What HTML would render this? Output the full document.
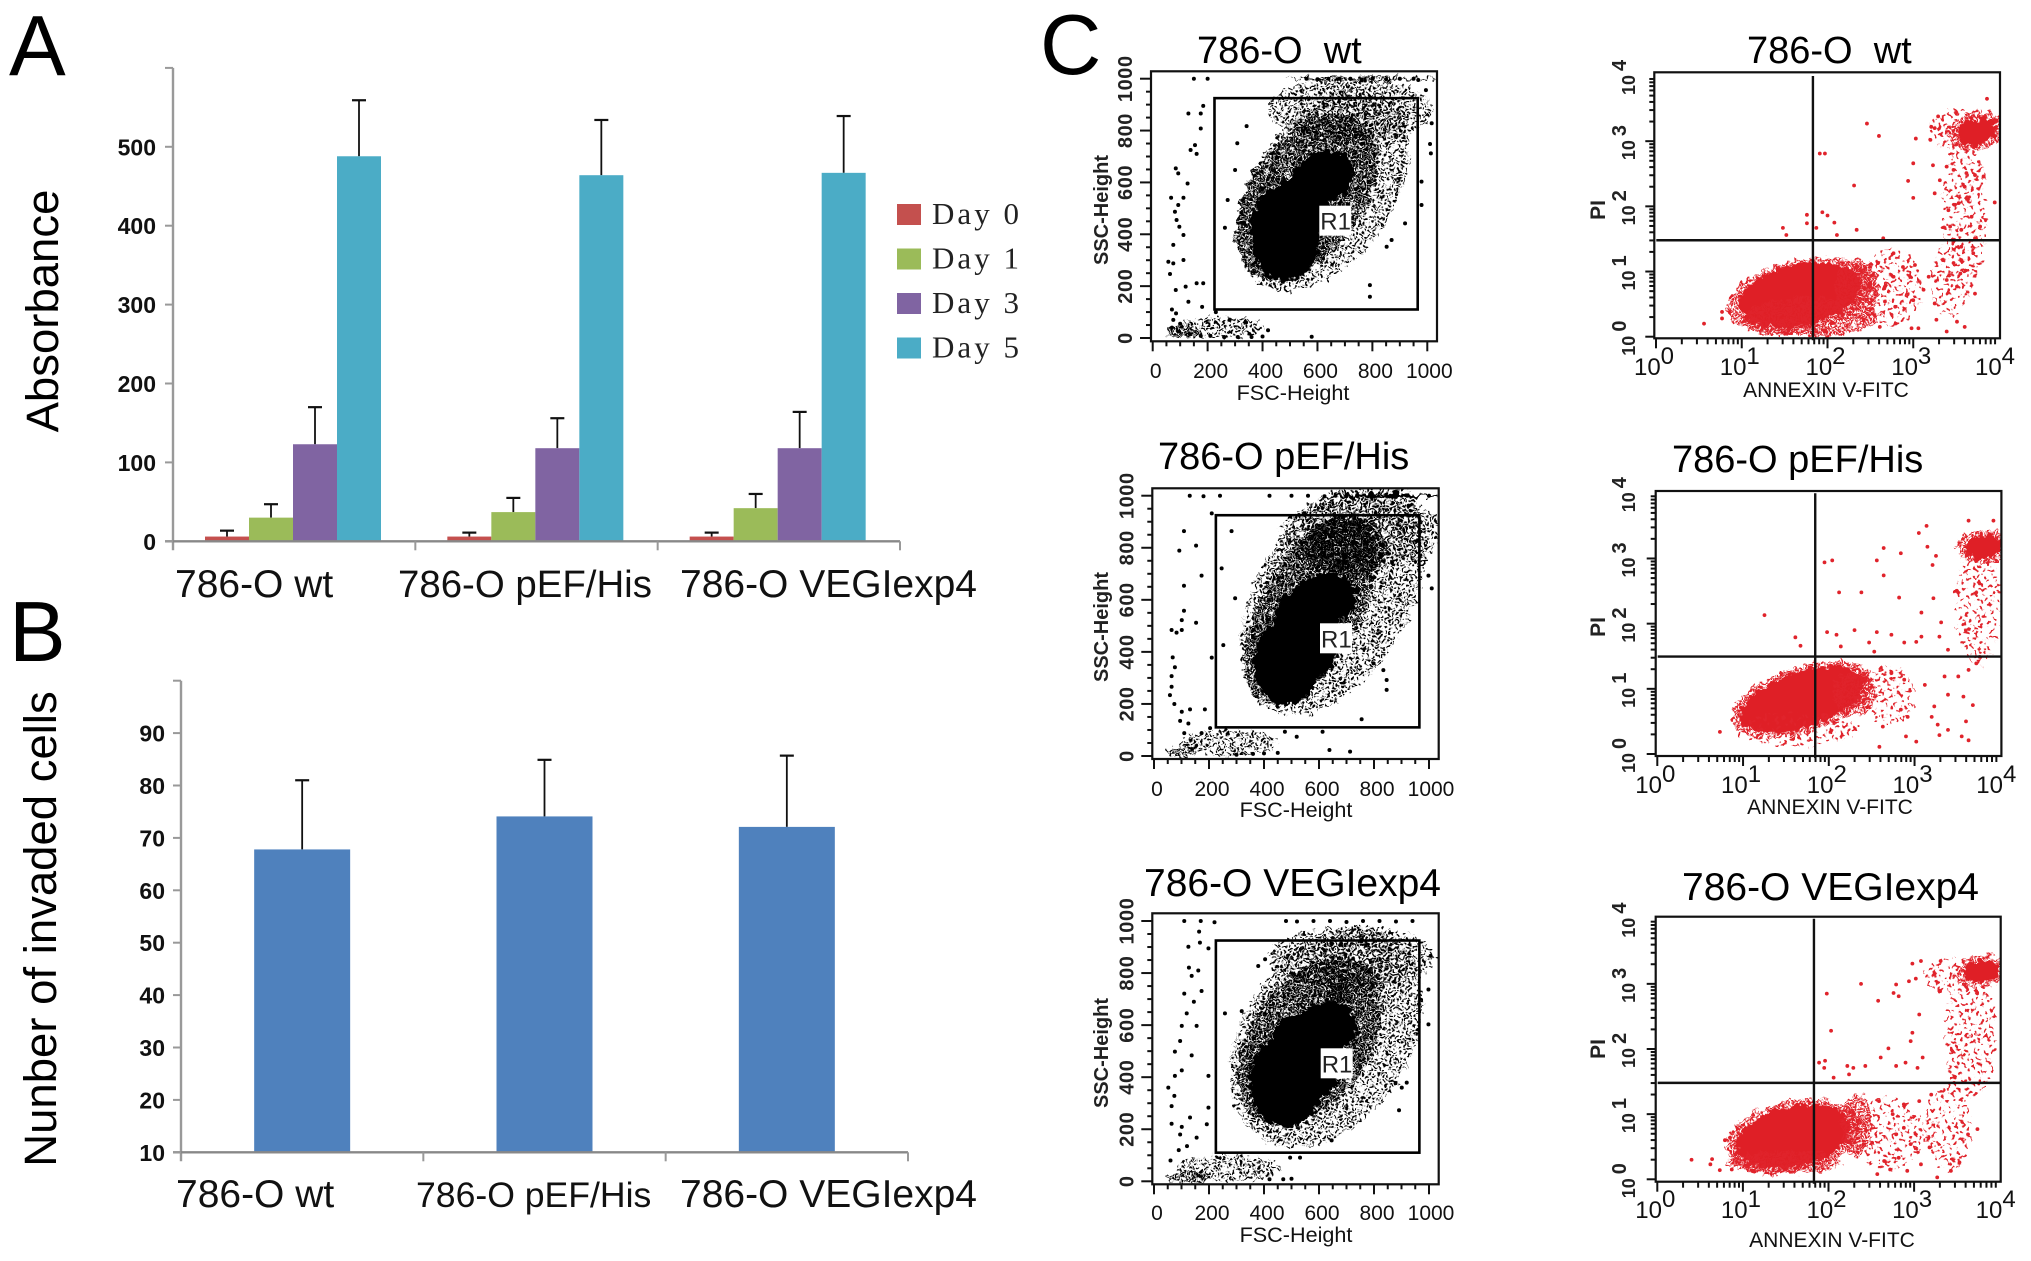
<!DOCTYPE html>
<html lang="en">
<head>
<meta charset="utf-8">
<title>786-O proliferation, invasion and flow cytometry figure</title>
<style>
html,body{margin:0;padding:0;background:#fff;}
svg{display:block;font-family:"Liberation Sans",sans-serif;}
</style>
</head>
<body>
<svg id="figure" xmlns="http://www.w3.org/2000/svg" width="2031" height="1261" viewBox="0 0 2031 1261">
<defs>
<pattern id="blackSparse" patternUnits="userSpaceOnUse" width="7" height="7" patternTransform="rotate(22)"><circle cx="1.75" cy="1.75" r="1.5" fill="#000"/><circle cx="5.25" cy="5.25" r="1.5" fill="#000"/></pattern>
<pattern id="blackMid" patternUnits="userSpaceOnUse" width="4.8" height="4.8" patternTransform="rotate(22)"><circle cx="1.2" cy="1.2" r="1.45" fill="#000"/><circle cx="3.6" cy="3.6" r="1.45" fill="#000"/></pattern>
<pattern id="redSparse" patternUnits="userSpaceOnUse" width="11" height="11" patternTransform="rotate(22)"><circle cx="2.75" cy="2.75" r="1.9" fill="#e0232b"/><circle cx="8.25" cy="8.25" r="1.9" fill="#e0232b"/></pattern>
<pattern id="redMid" patternUnits="userSpaceOnUse" width="5.4" height="5.4" patternTransform="rotate(22)"><circle cx="1.35" cy="1.35" r="1.7" fill="#e0232b"/><circle cx="4.05" cy="4.05" r="1.7" fill="#e0232b"/></pattern>
<filter id="scatterRoughen" x="-8%" y="-8%" width="116%" height="116%" color-interpolation-filters="sRGB">
<feTurbulence type="fractalNoise" baseFrequency="0.16" numOctaves="2" seed="7" result="noise"/>
<feDisplacementMap in="SourceGraphic" in2="noise" scale="13" xChannelSelector="R" yChannelSelector="G"/>
</filter>
</defs>
<rect x="0" y="0" width="2031" height="1261" fill="#fff"/>

<text x="9" y="75" font-size="85">A</text>
<text x="9" y="661" font-size="85">B</text>
<text x="1040" y="74" font-size="85">C</text>

<text transform="translate(58,311) rotate(-90)" text-anchor="middle" font-size="45.5">Absorbance</text>
<text transform="translate(56,929) rotate(-90)" text-anchor="middle" font-size="45.5">Nunber of invaded cells</text>

<text x="1197" y="63" font-size="38" xml:space="preserve">786-O  wt</text>
<text x="1158" y="469" font-size="38">786-O pEF/His</text>
<text x="1144" y="896" font-size="39">786-O VEGIexp4</text>
<text x="1747" y="63" font-size="38" xml:space="preserve">786-O  wt</text>
<text x="1672" y="472" font-size="38">786-O pEF/His</text>
<text x="1682" y="900" font-size="39">786-O VEGIexp4</text>

<g id="chartA"></g>
<g id="chartB"></g>
<g id="flow"></g>
</svg>

<script>
// ---------- Chart A data ----------
const absorbanceGroups = ['786-O wt', '786-O pEF/His', '786-O VEGIexp4'];
const absorbanceTicks = [0, 100, 200, 300, 400, 500];
const dayNames = ['Day 0', 'Day 1', 'Day 3', 'Day 5'];
const day0Values = [6, 6, 6];
const day1Values = [30, 37, 42];
const day3Values = [123, 118, 118];
const day5Values = [488, 464, 467];
const day0ErrorTops = [13.5, 11, 11];
const day1ErrorTops = [47, 55, 60];
const day3ErrorTops = [170, 156, 164];
const day5ErrorTops = [559, 534, 539];

// ---------- Chart B data ----------
const invasionGroups = ['786-O wt', '786-O pEF/His', '786-O VEGIexp4'];
const invasionTicks = [10, 20, 30, 40, 50, 60, 70, 80, 90];
const invasionValues = [67.8, 74.1, 72.1];
const invasionErrorTops = [81, 84.9, 85.7];

// ---------- Flow cytometry axis labels ----------
const fscTicks = [0, 200, 400, 600, 800, 1000];
const logDecades = [0, 1, 2, 3, 4];

// Density regions: centre x, centre y, radius x, radius y, tilt degrees, density (0 sparse, 1 mid, 2 solid)
const fscWtRegions = [[621,570,412,270,-55,0],[720,880,300,120,0,0],[760,1000,270,8,0,1],[560,545,340,218,-55,1],[482,404,127,186,0,2],[621,622,115,96,-20,2],[536,503,110,115,0,2],[110,22,60,22,0,1],[250,40,150,40,0,0]];
const fscPefRegions = [[652,612,470,295,-60,0],[760,860,300,130,0,0],[820,1000,210,8,0,2],[567,561,376,192,-62,1],[700,800,150,120,0,1],[482,356,120,160,0,2],[616,599,122,100,-20,2],[550,470,100,170,-25,2],[100,15,55,20,0,1],[270,50,180,50,0,0]];
const fscVegRegions = [[628,552,436,320,-55,0],[720,860,300,120,0,0],[567,539,340,230,-55,1],[482,385,135,176,0,2],[628,590,110,100,-20,2],[676,731,40,64,0,1],[550,480,110,170,-25,2],[120,15,80,20,0,1],[270,50,190,50,0,0]];

const fscWtPoints = [[130,866],[175,866],[184,895],[175,808],[154,744],[138,725],[160,710],[84,654],[93,635],[127,596],[67,541],[112,541],[93,513],[81,487],[87,455],[97,429],[112,397],[75,359],[112,301],[57,294],[75,288],[63,247],[84,185],[120,198],[160,211],[184,211],[342,817],[308,751],[300,648],[273,532],[263,425],[791,204],[791,159],[579,5],[1016,828],[1010,748],[1013,712],[995,956],[967,995],[979,603],[979,513],[919,442],[870,378],[852,352],[70,110],[85,95],[75,70],[100,55],[70,40],[95,25],[135,15],[175,8],[210,8],[260,4],[310,4],[360,4],[400,6],[420,30],[130,140],[180,120],[230,100],[280,70],[340,60],[200,1000],[150,1000],[560,1000],[600,998],[640,1000],[680,1000],[720,1000],[760,996],[800,1000],[850,998],[900,1000],[950,1000]];
const fscPefPoints = [[109,864],[92,789],[153,808],[173,693],[109,654],[109,558],[101,522],[153,512],[64,484],[82,474],[101,484],[68,379],[76,341],[64,307],[64,266],[58,234],[74,200],[101,170],[131,179],[185,179],[95,135],[125,125],[110,88],[173,88],[204,107],[210,932],[246,721],[282,864],[210,378],[252,426],[295,606],[755,141],[613,93],[638,23],[713,17],[998,693],[1010,644],[846,292],[846,254],[834,330],[798,356],[519,74],[476,93],[130,1000],[180,998],[240,1000],[420,1000],[500,1000],[560,1000],[620,998],[660,1000],[700,1000],[740,1000],[800,998],[860,1000],[920,1000],[1000,1000],[300,5],[360,8],[400,10],[450,12]];
const fscVegPoints = [[164,959],[125,901],[167,917],[198,895],[127,821],[161,810],[137,789],[110,721],[173,731],[145,690],[119,645],[101,597],[155,597],[95,539],[76,498],[137,484],[101,426],[76,405],[52,360],[74,328],[64,289],[64,221],[101,209],[95,180],[131,245],[192,219],[155,168],[198,283],[198,405],[258,645],[319,654],[379,827],[404,853],[919,379],[901,360],[891,273],[998,603],[1006,866],[998,737],[531,91],[495,91],[646,157],[110,1000],[170,1000],[220,995],[480,1000],[520,998],[580,1000],[640,1000],[700,996],[760,1000],[820,1000],[880,998],[940,1000],[420,8],[470,8],[500,10],[90,120],[120,135],[60,80]];

const annexinWtRegions = [[1.68,.62,.86,.56,-12,1],[1.68,.64,.72,.47,-12,2],[1.81,.30,.80,.30,0,1],[2.34,.72,.26,.48,0,1],[2.75,.75,.35,.6,0,0],[3.6,1.9,.26,1.18,0,0],[3.44,.87,.23,.56,0,0],[3.62,3.18,.44,.33,0,0],[3.74,3.15,.34,.28,-10,1],[3.74,3.15,.23,.2,-10,2]];
const annexinPefRegions = [[1.69,.83,.86,.5,-18,1],[1.69,.83,.76,.42,-18,2],[1.63,.37,.72,.26,0,0],[2.3,.93,.26,.33,0,1],[2.7,.9,.3,.45,0,0],[3.74,2.32,.26,.97,0,0],[3.82,3.18,.32,.26,0,1],[3.82,3.18,.22,.18,-10,2]];
const annexinVegRegions = [[1.59,.66,.8,.55,-12,1],[1.59,.66,.68,.46,-12,2],[1.5,.26,.66,.17,0,1],[2.33,.84,.18,.48,0,1],[2.7,.7,.4,.55,0,0],[3.66,2.22,.3,.97,0,0],[3.39,.79,.27,.66,0,0],[3.55,3.12,.45,.26,0,0],[3.78,3.19,.3,.24,-10,1],[3.78,3.19,.21,.16,-10,2]];

const annexinWtPoints = [[.56,.2],[.77,.38],[.77,.28],[.86,.38],[1.48,1.67],[1.52,1.56],[1.76,1.87],[1.76,1.74],[1.87,1.67],[1.94,1.91],[2.0,1.86],[2.08,1.75],[2.34,1.64],[2.11,1.56],[1.91,2.81],[1.97,2.81],[2.46,3.27],[2.6,3.08],[2.31,2.32],[3.03,3.04],[3.0,2.66],[2.94,2.39],[3.0,2.13],[3.29,3.38],[3.86,3.65],[3.95,2.06],[3.21,3.22],[3.25,3.2],[3.2,3.02],[3.23,2.63],[3.39,2.61],[3.47,2.56],[3.62,2.51],[3.72,2.48],[3.82,2.46],[3.6,2.3],[3.31,2.4],[3.25,2.2],[3.41,1.94],[3.53,2.05],[3.68,1.84],[3.78,1.69],[3.43,1.69],[3.56,1.64],[3.72,1.51],[3.56,1.38],[3.7,1.28],[3.47,1.13],[3.55,.97],[3.39,.87],[3.51,.77],[3.72,.66],[3.18,.92],[3.25,.51],[3.27,.26],[3.39,.08],[3.51,.23],[3.6,.15],[2.98,.13],[3.06,.13],[3.0,.56],[3.12,.72],[3.02,1.1],[2.88,1.07],[2.77,1.28],[2.77,.92],[2.65,1.51],[2.59,1.13],[2.5,.82],[2.67,.54],[2.79,.46],[2.61,.15],[2.42,.26],[2.52,.56]];
const annexinPefPoints = [[.73,.34],[1.25,2.13],[1.95,2.94],[2.04,2.97],[2.12,2.48],[2.38,2.48],[2.56,2.97],[2.64,3.16],[2.64,2.74],[2.84,3.08],[2.82,2.4],[3.05,3.39],[3.14,3.5],[3.15,3.18],[3.21,2.9],[3.25,3.04],[3.22,2.39],[3.08,2.17],[3.31,2.02],[3.63,3.58],[3.92,3.58],[1.98,1.87],[2.09,1.83],[2.3,1.9],[2.56,1.87],[2.73,1.83],[2.88,1.71],[3.02,1.72],[3.08,1.8],[3.29,1.8],[3.39,1.6],[1.61,1.79],[1.67,1.66],[2.14,1.65],[2.47,1.71],[2.53,1.57],[3.12,1.06],[3.35,1.19],[3.51,1.19],[3.63,1.29],[3.72,1.39],[3.76,1.49],[3.2,.57],[3.27,.45],[3.29,.29],[3.39,.37],[3.55,.27],[3.63,.21],[3.6,.5],[3.02,.19],[2.9,.27],[2.59,.11],[2.63,.42],[2.84,.68],[2.92,.57],[2.88,1.14],[2.73,1.24],[3.39,.91],[3.57,.88],[3.68,.75],[3.23,.73]];
const annexinVegPoints = [[.4,.3],[.64,.31],[.62,.23],[.73,.14],[.79,.6],[.85,.64],[.87,.15],[.91,.38],[2.38,3.0],[1.98,2.85],[2.03,2.28],[2.58,2.74],[2.79,2.99],[2.76,2.86],[2.82,2.81],[2.94,3.04],[2.98,3.31],[3.08,3.35],[3.02,3.08],[3.06,2.53],[2.98,2.25],[2.96,2.12],[2.7,2.01],[2.61,1.87],[2.79,1.74],[2.9,1.79],[3.1,1.87],[3.04,1.71],[3.31,3.35],[1.89,1.79],[1.96,1.82],[1.95,1.71],[2.22,1.74],[2.29,1.71],[2.43,1.74],[2.06,1.56],[2.24,1.61],[3.06,1.2],[3.2,1.3],[2.88,1.15],[2.75,1.0],[2.59,1.2],[2.88,.79],[2.79,.69],[2.96,.54],[2.82,.33],[3.08,.23],[2.92,.13],[2.72,.15],[2.57,.08],[2.65,.28],[2.51,.56],[3.27,.03],[3.18,.49],[3.43,.13],[3.53,.26],[3.63,.69],[3.74,.77]];

// Gate and quadrant thresholds, in axis units
const gateBounds = [225, 965, 110, 925];
const quadrantThresholds = [1.83, 1.48];

// ---------- Helpers ----------
const NS = 'http://www.w3.org/2000/svg';
function el(parent, tag, attrs, text) {
  const node = document.createElementNS(NS, tag);
  for (const k in attrs) node.setAttribute(k, attrs[k]);
  if (text !== undefined) node.textContent = text;
  parent.appendChild(node);
  return node;
}
function hLine(parent, x1, x2, y, stroke, w) {
  return el(parent, 'line', {x1: x1, x2: x2, y1: y, y2: y, stroke: stroke, 'stroke-width': w});
}
function vLine(parent, x, y1, y2, stroke, w) {
  return el(parent, 'line', {x1: x, x2: x, y1: y1, y2: y2, stroke: stroke, 'stroke-width': w});
}

// ---------- Chart A ----------
(function () {
  const root = document.getElementById('chartA');
  const left = 173, right = 900, zeroY = 541.3, perUnit = 0.789, axisMax = 600;
  const yScale = v => zeroY - v * perUnit;
  const groupW = (right - left) / absorbanceGroups.length;
  const barW = 44, inset = 32;
  const xScale = (g, s) => left + g * groupW + inset + s * barW;
  const colors = ['#c4504e', '#9bbb59', '#8064a2', '#4bacc6'];
  const series = [day0Values, day1Values, day3Values, day5Values];
  const errors = [day0ErrorTops, day1ErrorTops, day3ErrorTops, day5ErrorTops];

  series.forEach((vals, s) => {
    vals.forEach((v, g) => {
      const x = xScale(g, s);
      const stem = vLine(root, x + barW / 2, yScale(errors[s][g]), yScale(v), '#111', 1.8);
      
      
      const cap = hLine(root, x + barW / 2 - 7, x + barW / 2 + 7, yScale(errors[s][g]), '#111', 2.2);
      
      
      const bar = el(root, 'rect', {x: x, y: yScale(v), width: barW, height: yScale(0) - yScale(v), fill: colors[s]});
      
      
    });
  });

  const yAxis = vLine(root, left, yScale(axisMax), zeroY + 9, '#999', 2.4);
  
  
  const xAxis = hLine(root, left - 8, right, zeroY, '#888', 2.4);
  
  

  [600].concat(absorbanceTicks).forEach(t => {
    const tick = hLine(root, left - 8, left, yScale(t), '#999', 2);
    
    
  });
  absorbanceTicks.forEach(t => {
    const lab = el(root, 'text', {x: 156, y: yScale(t) + 8.5, 'text-anchor': 'end', 'font-size': 23, 'font-weight': 'bold', fill: '#111'}, String(t));
    
    
  });
  for (let g = 1; g <= absorbanceGroups.length; g++) {
    const tick = vLine(root, left + g * groupW, zeroY, zeroY + 9, '#999', 2);
    
    
  }
  const catStarts = [175, 398, 680];
  const catSizes = [39, 38.4, 39];
  absorbanceGroups.forEach((name, g) => {
    const lab = el(root, 'text', {x: catStarts[g], y: 597, 'font-size': catSizes[g], fill: '#111'}, name);
    
    
  });

  dayNames.forEach((name, i) => {
    const y = 204 + i * 44.5;
    const sw = el(root, 'rect', {x: 897, y: y, width: 24, height: 21, fill: colors[i]});
    
    
    const lab = el(root, 'text', {x: 932, y: y + 20, 'font-size': 31, 'font-family': '"Liberation Serif",serif', textLength: 87, lengthAdjust: 'spacing', fill: '#222'}, name);
    
    
  });
})();

// ---------- Chart B ----------
(function () {
  const root = document.getElementById('chartB');
  const left = 181, right = 908, baseY = 1152.3, perUnit = 5.24, axisMax = 100;
  const yScale = v => baseY - (v - 10) * perUnit;
  const groupW = (right - left) / invasionGroups.length;
  const barW = 96;
  const xScale = g => left + g * groupW + (groupW - barW) / 2;
  invasionValues.forEach((v, g) => {
    const x = xScale(g);
    const stem = vLine(root, x + barW / 2, yScale(invasionErrorTops[g]), yScale(v), '#111', 1.8);
    
    
    const cap = hLine(root, x + barW / 2 - 7, x + barW / 2 + 7, yScale(invasionErrorTops[g]), '#111', 2.2);
    
    
    const bar = el(root, 'rect', {x: x, y: yScale(v), width: barW, height: yScale(10) - yScale(v), fill: '#4f81bd'});
    
    
  });
  const yAxis = vLine(root, left, yScale(axisMax), baseY + 9, '#999', 2.4);
  
  
  const xAxis = hLine(root, left - 8, right, baseY, '#888', 2.4);
  
  
  [100].concat(invasionTicks).forEach(t => {
    const tick = hLine(root, left - 8, left, yScale(t), '#999', 2);
    
    
  });
  invasionTicks.forEach(t => {
    const lab = el(root, 'text', {x: 165, y: yScale(t) + 8.5, 'text-anchor': 'end', 'font-size': 23, 'font-weight': 'bold', fill: '#111'}, String(t));
    
    
  });
  for (let g = 1; g <= invasionGroups.length; g++) {
    const tick = vLine(root, left + g * groupW, baseY, baseY + 9, '#999', 2);
    
    
  }
  const catStarts = [176, 416, 680];
  const catSizes = [39, 35.6, 39];
  invasionGroups.forEach((name, g) => {
    const lab = el(root, 'text', {x: catStarts[g], y: 1207, 'font-size': catSizes[g], fill: '#111'}, name);
    
    
  });
})();

// ---------- Flow cytometry ----------
const flowRoot = document.getElementById('flow');
let clipCounter = 0;

function drawRegions(group, regions, xS, yS, sxU, syU, fills) {
  const rough = el(group, 'g', {filter: 'url(#scatterRoughen)'});
  regions.forEach(r => {
    const cx = xS(r[0]), cy = yS(r[1]);
    const e = el(rough, 'ellipse', {cx: cx, cy: cy, rx: r[2] * sxU, ry: r[3] * syU, transform: 'rotate(' + r[4] + ' ' + cx + ' ' + cy + ')', fill: fills[r[5]]});
    
    
  });
}
function drawPoints(group, pts, xS, yS, color, radius) {
  pts.forEach(p => {
    const c = el(group, 'circle', {cx: xS(p[0]), cy: yS(p[1]), r: radius, fill: color});
    
    
  });
}
function clipGroup(frame) {
  const id = 'clip' + (++clipCounter);
  const cp = el(flowRoot, 'clipPath', {id: id});
  el(cp, 'rect', {x: frame.x, y: frame.y, width: frame.w, height: frame.h});
  return el(flowRoot, 'g', {'clip-path': 'url(#' + id + ')'});
}

function fscPanel(cfg) {
  const x0 = cfg.x0, x1000 = cfg.x1000, y0 = cfg.y0, y1000 = cfg.y1000;
  const xS = v => x0 + (x1000 - x0) * v / 1000;
  const yS = v => y0 + (y1000 - y0) * v / 1000;
  const g = clipGroup(cfg.frame);
  
  
  drawRegions(g, cfg.regions, xS, yS, (x1000 - x0) / 1000, (y0 - y1000) / 1000, ['url(#blackSparse)', 'url(#blackMid)', '#000']);
  drawPoints(g, cfg.points, xS, yS, '#000', 2);

  const f = el(flowRoot, 'rect', {x: cfg.frame.x, y: cfg.frame.y, width: cfg.frame.w, height: cfg.frame.h, fill: 'none', stroke: '#111', 'stroke-width': 2.2});
  
  

  const gate = el(flowRoot, 'rect', {x: xS(gateBounds[0]), y: yS(gateBounds[3]), width: xS(gateBounds[1]) - xS(gateBounds[0]), height: yS(gateBounds[2]) - yS(gateBounds[3]), fill: 'none', stroke: '#000', 'stroke-width': 2.6});
  
  

  const box = el(flowRoot, 'rect', {x: cfg.r1[0], y: cfg.r1[1], width: 32, height: 30, fill: '#fff'});
  
  
  const r1 = el(flowRoot, 'text', {x: cfg.r1[0] + 1, y: cfg.r1[1] + 24, 'font-size': 24, fill: '#222'}, 'R1');
  
  

  for (let v = 0; v <= 1000; v += 50) {
    const major = v % 200 === 0;
    const tx = vLine(flowRoot, xS(v), cfg.frame.y + cfg.frame.h, cfg.frame.y + cfg.frame.h + (major ? 10 : 5), '#111', 2);
    
    
    const ty = hLine(flowRoot, cfg.frame.x - (major ? 11 : 5), cfg.frame.x, yS(v), '#111', 2);
    
    
  }
  fscTicks.forEach(t => {
    const lx = el(flowRoot, 'text', {x: xS(t) + (t === 1000 ? 2 : 3), y: cfg.xLabelY, 'text-anchor': 'middle', 'font-size': 21, fill: '#111'}, String(t));
    
    
    const ly = el(flowRoot, 'text', {transform: 'translate(' + (cfg.frame.x - 19) + ',' + yS(t) + ') rotate(-90)', 'text-anchor': 'middle', 'font-size': 20, 'font-weight': 'bold', 'letter-spacing': 0.6, fill: '#222'}, String(t));
    
    
  });
  const xt = el(flowRoot, 'text', {x: cfg.xTitle[0], y: cfg.xTitle[1], 'text-anchor': 'middle', 'font-size': 21.6, fill: '#111'}, 'FSC-Height');
  
  
  const yt = el(flowRoot, 'text', {transform: 'translate(1108,' + cfg.yTitleY + ') rotate(-90)', 'text-anchor': 'middle', 'font-size': 20, 'font-weight': 'bold', fill: '#222'}, 'SSC-Height');
  
  
}

function annexinPanel(cfg) {
  const xS = v => cfg.xA + (cfg.xB - cfg.xA) * v / 4;
  const yS = v => cfg.yA + (cfg.yB - cfg.yA) * v / 4;
  const g = clipGroup(cfg.frame);
  
  
  drawRegions(g, cfg.regions, xS, yS, (cfg.xB - cfg.xA) / 4, (cfg.yA - cfg.yB) / 4, ['url(#redSparse)', 'url(#redMid)', '#df1f26']);
  drawPoints(g, cfg.points, xS, yS, '#e0232b', 1.9);

  const f = el(flowRoot, 'rect', {x: cfg.frame.x, y: cfg.frame.y, width: cfg.frame.w, height: cfg.frame.h, fill: 'none', stroke: '#111', 'stroke-width': 2.2});
  
  

  const vq = vLine(flowRoot, xS(quadrantThresholds[0]) + cfg.qdx, yS(4), cfg.frame.y + cfg.frame.h + 2, '#111', 2.4);
  
  
  const hq = hLine(flowRoot, cfg.frame.x + 2, cfg.frame.x + cfg.frame.w, yS(quadrantThresholds[1]) + cfg.qdy, '#111', 2.4);
  
  

  const minorSteps = [1, 2, 3, 4, 5, 6, 7, 8, 9];
  for (let d = 0; d < 4; d++) {
    minorSteps.forEach(m => {
      const v = d + Math.log10(m);
      const tx = vLine(flowRoot, xS(v), cfg.frame.y + cfg.frame.h, cfg.frame.y + cfg.frame.h + (m === 1 ? 10 : 6), '#111', 2);
      
      
      const ty = hLine(flowRoot, cfg.frame.x - (m === 1 ? 9 : 5), cfg.frame.x, yS(v), '#111', 2);
      
      
    });
  }
  logDecades.forEach(d => {
    const lx = el(flowRoot, 'text', {x: xS(d) + (d === 4 ? -4 : -2), y: cfg.xLabelY, 'text-anchor': 'middle', 'font-size': 24, fill: '#111'});
    
    
    el(lx, 'tspan', {}, '10');
    el(lx, 'tspan', {dy: -11, 'font-size': 24}, String(d));

    const ly = el(flowRoot, 'text', {transform: 'translate(1635,' + (yS(d) + 19) + ') rotate(-90)', 'font-size': 18, 'font-weight': 'bold', fill: '#222'});
    
    
    el(ly, 'tspan', {}, '10');
    el(ly, 'tspan', {dx: 4, dy: -9, 'font-size': 20}, String(d));
  });
  const xt = el(flowRoot, 'text', {x: cfg.xTitle[0], y: cfg.xTitle[1], 'text-anchor': 'middle', 'font-size': 21, fill: '#111'}, 'ANNEXIN V-FITC');
  
  
  const yt = el(flowRoot, 'text', {transform: 'translate(1605,' + cfg.yTitleY + ') rotate(-90)', 'text-anchor': 'middle', 'font-size': 21, 'font-weight': 'bold', fill: '#222'}, 'PI');
  
  
}

fscPanel({key: 'wt', regions: fscWtRegions, points: fscWtPoints,
  frame: {x: 1151, y: 71.3, w: 286, h: 270}, x0: 1152.7, x1000: 1427.3, y0: 338, y1000: 78.7,
  r1: [1319.3, 205.7], xLabelY: 378, xTitle: [1293, 400], yTitleY: 210});
fscPanel({key: 'pef', regions: fscPefRegions, points: fscPefPoints,
  frame: {x: 1152.3, y: 488.3, w: 286.4, h: 270.7}, x0: 1154, x1000: 1429, y0: 756, y1000: 495.7,
  r1: [1320, 623.3], xLabelY: 796, xTitle: [1296, 817], yTitleY: 627});
fscPanel({key: 'veg', regions: fscVegRegions, points: fscVegPoints,
  frame: {x: 1152.3, y: 913.3, w: 286.4, h: 271}, x0: 1154, x1000: 1429, y0: 1181.3, y1000: 921,
  r1: [1320.7, 1048.3], xLabelY: 1220, xTitle: [1296, 1242], yTitleY: 1053});

annexinPanel({key: 'wt', regions: annexinWtRegions, points: annexinWtPoints,
  frame: {x: 1654.3, y: 72.3, w: 345.7, h: 266}, xA: 1656, xB: 1999, yA: 336.7, yB: 76, qdx: 0, qdy: 0,
  xLabelY: 375, xTitle: [1826, 397], yTitleY: 210});
annexinPanel({key: 'pef', regions: annexinPefRegions, points: annexinPefPoints,
  frame: {x: 1655.7, y: 491, w: 345.7, h: 265}, xA: 1657.3, xB: 2000.3, yA: 754, yB: 493.3, qdx: 1, qdy: -1,
  xLabelY: 793, xTitle: [1830, 814], yTitleY: 627});
annexinPanel({key: 'veg', regions: annexinVegRegions, points: annexinVegPoints,
  frame: {x: 1655.7, y: 916.7, w: 345, h: 265}, xA: 1657.3, xB: 1999.7, yA: 1179.3, yB: 918.7, qdx: 0, qdy: 0,
  xLabelY: 1218, xTitle: [1832, 1247], yTitleY: 1049});
</script>
</body>
</html>
